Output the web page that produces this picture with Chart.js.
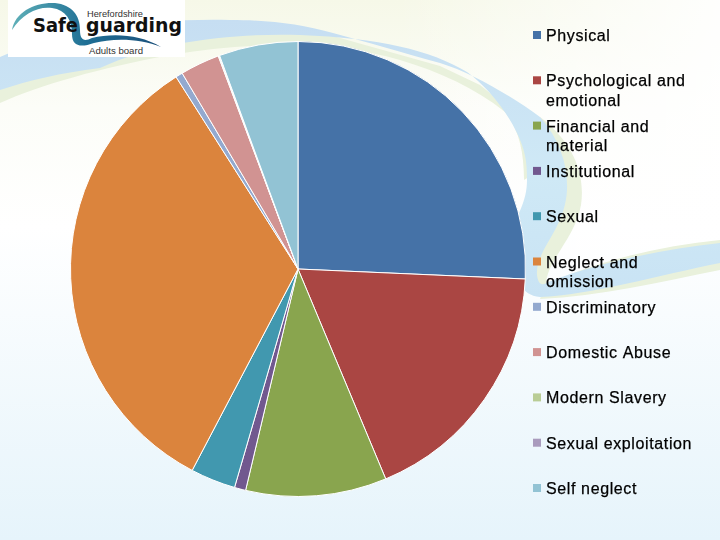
<!DOCTYPE html>
<html>
<head>
<meta charset="utf-8">
<script src="https://cdn.jsdelivr.net/npm/chart.js@4"></script>
<style>
html,body{margin:0;padding:0;width:720px;height:540px;overflow:hidden;background:#fff}
#bg,#c{position:absolute;left:0;top:0}
</style>
</head>
<body>
<svg id="bg" width="720" height="540" viewBox="0 0 720 540" xmlns="http://www.w3.org/2000/svg">
  <defs>
    <linearGradient id="page" x1="0" y1="0" x2="0" y2="1">
      <stop offset="0" stop-color="#f6f8e8"/>
      <stop offset="0.2" stop-color="#fcfdf8"/>
      <stop offset="0.42" stop-color="#ffffff"/>
      <stop offset="1" stop-color="#e6f4fb"/>
    </linearGradient>
    <linearGradient id="fade" x1="0" y1="0" x2="1" y2="0">
      <stop offset="0.55" stop-color="#ffffff" stop-opacity="0"/>
      <stop offset="1" stop-color="#ffffff" stop-opacity="0.9"/>
    </linearGradient>
    <linearGradient id="band" x1="0" y1="0" x2="0" y2="1">
      <stop offset="0" stop-color="#c6def2"/>
      <stop offset="0.55" stop-color="#cfe9f6"/>
      <stop offset="1" stop-color="#c9e3f4"/>
    </linearGradient>
    <linearGradient id="swoosh" x1="0" y1="0" x2="1" y2="0">
      <stop offset="0" stop-color="#5fb0b8"/>
      <stop offset="0.5" stop-color="#1f6f95"/>
      <stop offset="1" stop-color="#1b4f7a"/>
    </linearGradient>
  </defs>
  <rect width="720" height="540" fill="url(#page)"/>
  <rect width="720" height="260" fill="url(#fade)"/>
  <!-- green rims -->
  <path d="M0,103 C40,85 100,68 170,55 C250,42 330,40 400,60 C440,72 475,88 505,112 C518,128 524,150 524,180 L540,170 L530,125 L480,85 L440,66 L333,36 L230,24 L0,65 Z" fill="#e9f1dc"/>
  <path d="M540,117 C570,140 586,170 581,205 C575,240 544,262 546,288 L530,285 L540,160 Z" fill="#e9f1dc"/>
  <path d="M545,285 C600,260 660,246 720,240 L720,270 C660,282 600,296 540,299 Z" fill="#e9f1dc"/>
  <!-- blue band -->
  <path d="M0,57 C60,30 150,18 230,20 C270,20 300,24 333,33 C367,42 400,52 440,63 C470,72 510,95 540,117 C560,140 568,165 567,190 C565,230 535,250 537,275 C538,283 541,287 548,282 C600,262 660,250 720,243 L720,263 C660,275 590,295 540,297 C530,296 525,292 520,285 L515,240 L519,213 C525,200 527,190 527,180 C527,160 525,150 517,133 C505,108 485,85 467,72 C430,50 380,38 300,35 C240,33 160,40 100,68 C60,73 30,80 0,90 Z" fill="url(#band)"/>
  <!-- logo panel -->
  <rect x="8" y="0" width="177" height="57" fill="#ffffff"/>
  <path d="M12,30 C15,12 35,2 55,3 C72,5 80,15 80,30 C80,40 84,42 92,38 C112,33 140,34 161,47 C140,38 112,38 94,43 C80,48 72,46 72,34 C72,20 66,10 52,8 C38,6 22,14 12,30 Z" fill="url(#swoosh)"/>
  <text x="87" y="17" font-family="Liberation Sans" font-size="9" fill="#333" textLength="56" lengthAdjust="spacingAndGlyphs">Herefordshire</text>
  <text x="33" y="32" font-family="DejaVu Sans" font-weight="bold" font-size="19" fill="#111" textLength="45" lengthAdjust="spacingAndGlyphs">Safe</text>
  <text x="86" y="32" font-family="DejaVu Sans" font-weight="bold" font-size="19" fill="#111" textLength="96" lengthAdjust="spacingAndGlyphs">guarding</text>
  <text x="89" y="54" font-family="Liberation Sans" font-size="9" fill="#333" textLength="54" lengthAdjust="spacingAndGlyphs">Adults board</text>
</svg>
<canvas id="c" width="720" height="540"></canvas>
<script>
const categories = ["Physical","Psychological and emotional","Financial and material","Institutional","Sexual","Neglect and omission","Discriminatory","Domestic Abuse","Modern Slavery","Sexual exploitation","Self neglect"];
const sharePercent = [25.7,18.0,10.0,0.8,3.2,33.3,0.5,2.8,0.05,0.05,5.6];
const sliceColours = ["#4572A7","#AA4643","#89A54E","#71588F","#4198AF","#DB843D","#93A9CF","#D19392","#B9CD96","#A99BBD","#92C3D4"];

const sideLegend = {
  id: 'sideLegend',
  afterDraw(chart) {
    const ctx = chart.ctx, maxW = 150, step = 45.3, firstY = 35;
    const colours = chart.data.datasets[0].backgroundColor;
    ctx.save();
    ctx.font = '16px "Liberation Sans"';
    if ('letterSpacing' in ctx) ctx.letterSpacing = '0.62px';
    ctx.textBaseline = 'alphabetic';
    ctx.lineWidth = 0.25;
    ctx.strokeStyle = '#000';
    chart.data.labels.forEach((label, i) => {
      const y = firstY + step * i;
      ctx.fillStyle = colours[i];
      ctx.fillRect(533, y - 4, 8, 8);
      ctx.fillStyle = '#000';
      const lines = [];
      let cur = '';
      label.split(' ').forEach(w => {
        const t = cur ? cur + ' ' + w : w;
        if (ctx.measureText(t).width > maxW && cur) { lines.push(cur); cur = w; } else cur = t;
      });
      lines.push(cur);
      lines.forEach((l, k) => {
        ctx.fillText(l, 546, y + 6 + k * 19.3);
        ctx.strokeText(l, 546, y + 6 + k * 19.3);
      });
    });
    ctx.restore();
  }
};

new Chart(document.getElementById('c'), {
  type: 'pie',
  data: {
    labels: categories,
    datasets: [{ data: sharePercent, backgroundColor: sliceColours, borderColor: '#ffffff', borderWidth: 1, hoverOffset: 0 }]
  },
  options: {
    responsive: false,
    animation: false,
    devicePixelRatio: 1,
    layout: { padding: { left: 70, right: 194, top: 41, bottom: 43 } },
    plugins: { legend: { display: false }, tooltip: { enabled: false } }
  },
  plugins: [sideLegend]
});
</script>
</body>
</html>
